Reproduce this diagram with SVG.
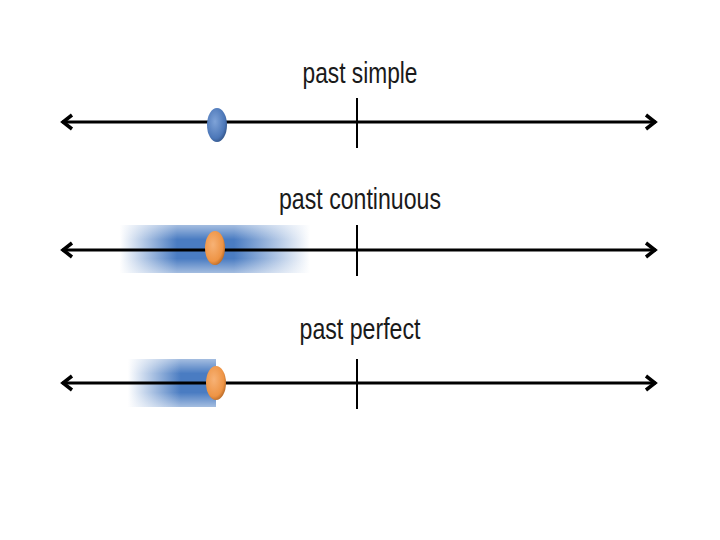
<svg xmlns="http://www.w3.org/2000/svg" width="720" height="540" viewBox="0 0 720 540">
<style>
.lbl{font-family:"Liberation Sans",Arial,sans-serif;font-size:30px;fill:#1a1a1a;text-anchor:middle}
.axis{stroke:#000;stroke-width:3;fill:none}
.tick{stroke:#000;stroke-width:2}
.head{stroke:#000;stroke-width:3.5;fill:none;stroke-linejoin:miter}
</style>
<defs>
<linearGradient id="bandBoth" x1="0" x2="1" y1="0" y2="0">
<stop offset="0" stop-color="#4a7cc2" stop-opacity="0"/>
<stop offset="0.3" stop-color="#4a7cc2" stop-opacity="1"/>
<stop offset="0.6" stop-color="#4a7cc2" stop-opacity="1"/>
<stop offset="1" stop-color="#4a7cc2" stop-opacity="0"/>
</linearGradient>
<linearGradient id="bandVert" x1="0" x2="0" y1="0" y2="1">
<stop offset="0" stop-color="#fff" stop-opacity="0.5"/>
<stop offset="0.3" stop-color="#fff" stop-opacity="0"/>
<stop offset="0.7" stop-color="#fff" stop-opacity="0"/>
<stop offset="1" stop-color="#fff" stop-opacity="0.5"/>
</linearGradient>
<linearGradient id="bandLeft" x1="0" x2="1" y1="0" y2="0">
<stop offset="0" stop-color="#4a7cc2" stop-opacity="0"/>
<stop offset="0.6" stop-color="#4a7cc2" stop-opacity="1"/>
<stop offset="1" stop-color="#4a7cc2" stop-opacity="1"/>
</linearGradient>
<radialGradient id="orange" cx="0.4" cy="0.4" r="0.7">
<stop offset="0" stop-color="#f7b276"/>
<stop offset="0.7" stop-color="#ee9445"/>
<stop offset="1" stop-color="#a65b1c"/>
</radialGradient>
<radialGradient id="blue" cx="0.4" cy="0.4" r="0.7">
<stop offset="0" stop-color="#7fa3d8"/>
<stop offset="0.7" stop-color="#4c77b8"/>
<stop offset="1" stop-color="#2b4a7a"/>
</radialGradient>
</defs>
<rect width="720" height="540" fill="#fff"/>

<g id="past-simple">
<text class="lbl" x="360" y="83" textLength="115" lengthAdjust="spacingAndGlyphs">past simple</text>
<line class="axis" x1="62" y1="122" x2="656" y2="122"/>
<polyline class="head" points="72,115 63,122 72,129"/>
<polyline class="head" points="646,115 655,122 646,129"/>
<line class="tick" x1="357" y1="98" x2="357" y2="148"/>
<ellipse cx="217" cy="125" rx="10" ry="17" fill="url(#blue)"/>
</g>

<g id="past-continuous">
<text class="lbl" x="360" y="209" textLength="162" lengthAdjust="spacingAndGlyphs">past continuous</text>
<rect x="120" y="225" width="190" height="48" fill="url(#bandBoth)"/>
<rect x="120" y="225" width="190" height="48" fill="url(#bandVert)"/>
<line class="axis" x1="62" y1="250" x2="656" y2="250"/>
<polyline class="head" points="72,243 63,250 72,257"/>
<polyline class="head" points="646,243 655,250 646,257"/>
<line class="tick" x1="357" y1="225" x2="357" y2="276"/>
<ellipse cx="215" cy="248" rx="10" ry="17" fill="url(#orange)"/>
</g>

<g id="past-perfect">
<text class="lbl" x="360" y="339" textLength="121" lengthAdjust="spacingAndGlyphs">past perfect</text>
<rect x="128" y="359" width="88" height="48" fill="url(#bandLeft)"/>
<rect x="128" y="359" width="88" height="48" fill="url(#bandVert)"/>
<line class="axis" x1="62" y1="383" x2="656" y2="383"/>
<polyline class="head" points="72,376 63,383 72,390"/>
<polyline class="head" points="646,376 655,383 646,390"/>
<line class="tick" x1="357" y1="359" x2="357" y2="409"/>
<ellipse cx="216" cy="383" rx="10" ry="17" fill="url(#orange)"/>
</g>
</svg>
